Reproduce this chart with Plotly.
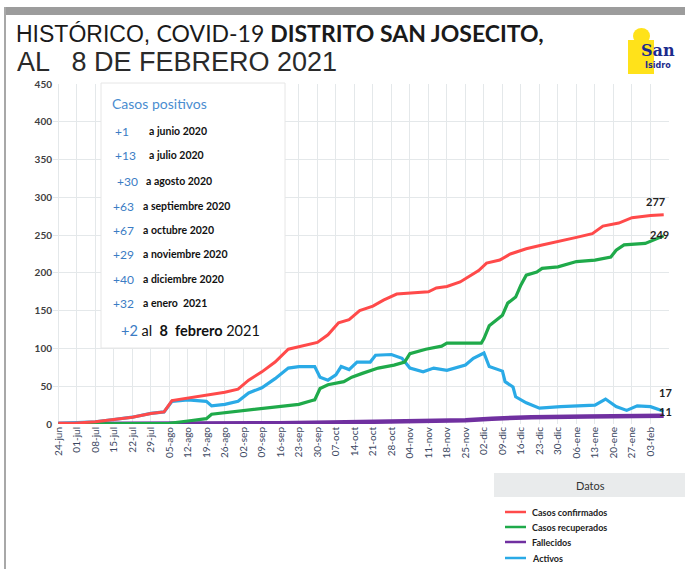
import plotly.graph_objects as go

# ---------------- data ----------------
conf_dates = ["2020-06-24","2020-06-30","2020-07-08","2020-07-15","2020-07-22","2020-07-29","2020-08-03",
              "2020-08-06","2020-08-12","2020-08-19","2020-08-26","2020-08-31","2020-09-04","2020-09-09",
              "2020-09-14","2020-09-19","2020-09-23","2020-09-30","2020-10-04","2020-10-08","2020-10-12",
              "2020-10-16","2020-10-21","2020-10-25","2020-10-30","2020-11-04","2020-11-11","2020-11-14",
              "2020-11-18","2020-11-23","2020-11-27","2020-11-30","2020-12-03","2020-12-08","2020-12-12",
              "2020-12-18","2020-12-24","2020-12-31","2021-01-06","2021-01-12","2021-01-16","2021-01-22",
              "2021-01-27","2021-02-03","2021-02-08"]
conf_vals = [1,1,3,6,9,14,16,31,34,38,42,46,58,69,82,99,102,108,118,134,138,150,156,164,172,173,175,180,
             182,188,197,203,213,217,225,232,237,242,247,252,262,266,273,276,277]

rec_dates = ["2020-06-24","2020-07-31","2020-08-05","2020-08-12","2020-08-19","2020-08-21","2020-08-26",
             "2020-09-02","2020-09-09","2020-09-16","2020-09-23","2020-09-28","2020-09-29","2020-10-01",
             "2020-10-04","2020-10-10","2020-10-13","2020-10-17","2020-10-23","2020-10-29","2020-11-02",
             "2020-11-04","2020-11-10","2020-11-16","2020-11-18","2020-12-01","2020-12-02","2020-12-04",
             "2020-12-06","2020-12-09","2020-12-11","2020-12-14","2020-12-16","2020-12-18","2020-12-22",
             "2020-12-24","2020-12-30","2021-01-06","2021-01-13","2021-01-19","2021-01-21","2021-01-24",
             "2021-02-01","2021-02-04","2021-02-08"]
rec_vals = [0,0,1,4,7,13,15,18,21,23,26,31,32,47,52,56,62,67,74,78,82,93,99,103,107,107,113,130,136,144,
            160,168,184,197,201,206,208,215,217,221,230,237,239,243,249]

dead_dates = ["2020-06-24","2020-08-05","2020-08-10","2020-09-15","2020-10-05","2020-10-25","2020-11-10",
              "2020-11-25","2020-12-05","2020-12-20","2021-01-10","2021-02-08"]
dead_vals = [0,0,1,1,2,3,4,5,7,9,10,11]

act_dates = ["2020-06-24","2020-07-08","2020-07-15","2020-07-22","2020-07-29","2020-08-03","2020-08-06",
             "2020-08-12","2020-08-19","2020-08-21","2020-08-26","2020-08-31","2020-09-04","2020-09-09",
             "2020-09-14","2020-09-19","2020-09-23","2020-09-29","2020-10-01","2020-10-04","2020-10-07",
             "2020-10-09","2020-10-12","2020-10-15","2020-10-20","2020-10-22","2020-10-28","2020-11-01",
             "2020-11-04","2020-11-09","2020-11-13","2020-11-18","2020-11-25","2020-11-28","2020-12-02",
             "2020-12-04","2020-12-09","2020-12-10","2020-12-13","2020-12-14","2020-12-18","2020-12-23",
             "2020-12-31","2021-01-13","2021-01-17","2021-01-21","2021-01-25","2021-01-29","2021-02-03",
             "2021-02-08"]
act_vals = [1,3,6,9,14,16,30,32,30,24,26,30,41,48,60,74,76,76,62,58,65,76,72,82,82,91,92,87,74,69,74,71,
            78,87,94,76,70,56,49,36,28,21,23,25,33,23,18,24,23,17]

tick_dates = ["2020-06-24","2020-07-01","2020-07-08","2020-07-15","2020-07-22","2020-07-29","2020-08-05",
              "2020-08-12","2020-08-19","2020-08-26","2020-09-02","2020-09-09","2020-09-16","2020-09-23",
              "2020-09-30","2020-10-07","2020-10-14","2020-10-21","2020-10-28","2020-11-04","2020-11-11",
              "2020-11-18","2020-11-25","2020-12-02","2020-12-09","2020-12-16","2020-12-23","2020-12-30",
              "2021-01-06","2021-01-13","2021-01-20","2021-01-27","2021-02-03"]
tick_text = ["24-jun","01-jul","08-jul","15-jul","22-jul","29-jul","05-ago","12-ago","19-ago","26-ago",
             "02-sep","09-sep","16-sep","23-sep","30-sep","07-oct","14-oct","21-oct","28-oct","04-nov",
             "11-nov","18-nov","25-nov","02-dic","09-dic","16-dic","23-dic","30-dic","06-ene","13-ene",
             "20-ene","27-ene","03-feb"]

box_nums = ["+1","+13","+30","+63","+67","+29","+40","+32"]
box_labels = ["a junio 2020","a julio 2020","a agosto 2020","a septiembre 2020","a octubre 2020",
              "a noviembre 2020","a diciembre 2020","a enero  2021"]

series_names = ["Casos confirmados","Casos recuperados","Fallecidos","Activos"]
end_labels = ["277","249","17","11"]

# ---------------- figure ----------------
W, H = 685, 569
L, R, T, B = 53, 16, 84, 145
pw, ph = W - L - R, H - T - B

def px(x):
    return (x - L) / pw

def py(y):
    return (H - B - y) / ph

RED, GREEN, PURPLE, BLUE = "#ff4a4a", "#1faa4a", "#7030a0", "#2aaae6"
CAL = "Lato, 'Open Sans', sans-serif"
SANS = "'Liberation Sans', Arial, sans-serif"

fig = go.Figure()
fig.add_trace(go.Scatter(x=dead_dates, y=dead_vals, mode="lines", line=dict(color=PURPLE, width=4.5),
                         name=series_names[2], showlegend=False))
fig.add_trace(go.Scatter(x=act_dates, y=act_vals, mode="lines", line=dict(color=BLUE, width=3.2),
                         name=series_names[3], showlegend=False))
fig.add_trace(go.Scatter(x=rec_dates, y=rec_vals, mode="lines", line=dict(color=GREEN, width=3.2),
                         name=series_names[1], showlegend=False))
fig.add_trace(go.Scatter(x=conf_dates, y=conf_vals, mode="lines", line=dict(color=RED, width=3),
                         name=series_names[0], showlegend=False))

shapes = []
ann = []

# top grey bar and left frame line
shapes.append(dict(type="rect", xref="paper", yref="paper", x0=px(5), x1=px(685), y0=py(7), y1=py(15),
                   fillcolor="#9c9c9c", line=dict(width=0), layer="above"))
shapes.append(dict(type="line", xref="paper", yref="paper", x0=px(5), x1=px(5), y0=py(7), y1=py(569),
                   line=dict(color="#a8a8a8", width=2), layer="above"))

# annotation box
shapes.append(dict(type="rect", xref="paper", yref="paper", x0=px(101), x1=px(285), y0=py(83), y1=py(348),
                   fillcolor="white", line=dict(color="#e6e6e6", width=1), layer="above"))
ann.append(dict(text="Casos positivos", x=px(110), y=py(103), xref="paper", yref="paper",
                xanchor="left", yanchor="middle", showarrow=False,
                font=dict(family=CAL, size=14, color="#4a8dd0")))
row_y = [131, 155, 181, 206, 230, 254, 279, 303]
num_x = [113, 113, 115, 111, 111, 111, 111, 111]
lab_x = [147, 147, 144, 141, 141, 141, 141, 141]
for n, lab, yy, nx, lx in zip(box_nums, box_labels, row_y, num_x, lab_x):
    ann.append(dict(text=n, x=px(nx), y=py(yy), xref="paper", yref="paper", xanchor="left",
                    yanchor="middle", showarrow=False, font=dict(family=CAL, size=12, color="#3b7cc4")))
    ann.append(dict(text="<b>" + lab + "</b>", x=px(lx), y=py(yy), xref="paper", yref="paper",
                    xanchor="left", yanchor="middle", showarrow=False,
                    font=dict(family=CAL, size=10.5, color="#111111")))
ann.append(dict(text="<span style='color:#3b7cc4'>+2</span> al  <b>8  febrero</b> 2021", x=px(119), y=py(330),
                xref="paper", yref="paper", xanchor="left", yanchor="middle", showarrow=False,
                font=dict(family=CAL, size=14.5, color="#111111")))

# title
ann.append(dict(text="HISTÓRICO, <span style='font-family:Lato'>COVID-19 <b>DISTRITO SAN JOSECITO,</b></span>",
                x=px(14), y=py(33), xref="paper", yref="paper", xanchor="left", yanchor="middle",
                showarrow=False, font=dict(family=SANS, size=23, color="#1a1a1a")))
ann.append(dict(text="AL   8 DE FEBRERO 2021", x=px(15), y=py(62), xref="paper", yref="paper",
                xanchor="left", yanchor="middle", showarrow=False,
                font=dict(family=SANS, size=27, color="#2a2a2a")))

# logo (approximation)
shapes.append(dict(type="circle", xref="paper", yref="paper", x0=px(633), x1=px(650), y0=py(28), y1=py(44),
                   fillcolor="#ffe21a", line=dict(width=0), layer="above"))
shapes.append(dict(type="rect", xref="paper", yref="paper", x0=px(628), x1=px(654), y0=py(40), y1=py(74),
                   fillcolor="#ffe21a", line=dict(width=0), layer="above"))
ann.append(dict(text="<b>San</b>", x=px(639), y=py(51), xref="paper", yref="paper", xanchor="left",
                yanchor="middle", showarrow=False, font=dict(family="DejaVu Serif", size=16, color="#1c2a8c")))
ann.append(dict(text="<b>Isidro</b>", x=px(643), y=py(66), xref="paper", yref="paper", xanchor="left",
                yanchor="middle", showarrow=False, font=dict(family="DejaVu Sans", size=8, color="#1c2a8c")))

# end labels
lab_pos = [(655, 201), (659, 234), (665, 392), (665, 411)]
for t, (xx, yy) in zip(end_labels, lab_pos):
    ann.append(dict(text="<b>" + t + "</b>", x=px(xx), y=py(yy), xref="paper", yref="paper",
                    xanchor="center", yanchor="middle", showarrow=False,
                    font=dict(family=CAL, size=11, color="#222222")))

# legend box
shapes.append(dict(type="rect", xref="paper", yref="paper", x0=px(494), x1=px(685), y0=py(473), y1=py(497),
                   fillcolor="#e9ebec", line=dict(width=0), layer="above"))
ann.append(dict(text="Datos", x=px(590), y=py(485), xref="paper", yref="paper", xanchor="center",
                yanchor="middle", showarrow=False, font=dict(family=CAL, size=11, color="#333333")))
leg_y = [512, 527, 542, 558]
for nm, col, yy in zip(series_names, [RED, GREEN, PURPLE, BLUE], leg_y):
    shapes.append(dict(type="line", xref="paper", yref="paper", x0=px(505), x1=px(526), y0=py(yy), y1=py(yy),
                       line=dict(color=col, width=2.5), layer="above"))
    ann.append(dict(text="<b>" + nm + "</b>", x=px(530), y=py(yy), xref="paper", yref="paper",
                    xanchor="left", yanchor="middle", showarrow=False,
                    font=dict(family=CAL, size=9, color="#222222")))

fig.update_layout(
    width=W, height=H, margin=dict(l=L, r=R, t=T, b=B),
    paper_bgcolor="white", plot_bgcolor="white",
    shapes=shapes, annotations=ann, showlegend=False, hovermode=False,
    xaxis=dict(type="date", range=["2020-06-22", "2021-02-10"], tickmode="array",
               tickvals=tick_dates, ticktext=tick_text, tickangle=-90,
               tickfont=dict(family=CAL, size=10, color="#3a4660"),
               showgrid=True, gridcolor="#e4e8ea", gridwidth=1, zeroline=False, showline=False,
               ticks=""),
    yaxis=dict(range=[0, 450], dtick=50, tickfont=dict(family=CAL, size=10, color="#404040", weight="bold"),
               showgrid=True, gridcolor="#e4e8ea", gridwidth=1, zeroline=False, showline=False,
               ticks=""),
)

fig.write_html("out.html", config={"displayModeBar": False},
               post_script="document.body.style.margin='0';document.body.style.padding='0';")
